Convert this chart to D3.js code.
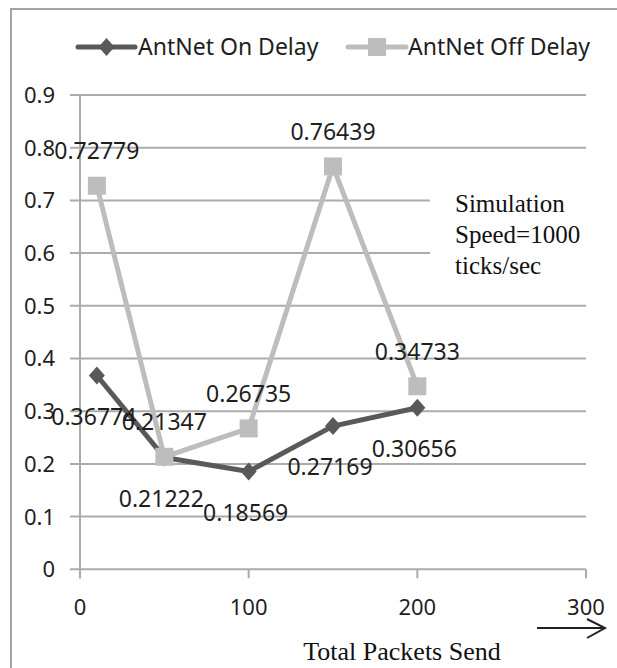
<!DOCTYPE html>
<html>
<head>
	<meta charset="utf-8">
	<script src="https://d3js.org/d3.v7.min.js"></script>
	<title>AntNet Delay</title>
	<style>
		body { margin: 0; background: #fff; }
		svg { display: block; }
	</style>
</head>
<body>
	<div id="chart"></div>

	<script type="text/javascript">

		// data
		var packets = [10, 50, 100, 150, 200];
		var onDelay = [0.36774, 0.21222, 0.18569, 0.27169, 0.30656];
		var offDelay = [0.72779, 0.21347, 0.26735, 0.76439, 0.34733];
		var seriesNames = ["AntNet On Delay", "AntNet Off Delay"];
		var xTicks = [0, 100, 200, 300];
		var yTicks = [0, 0.1, 0.2, 0.3, 0.4, 0.5, 0.6, 0.7, 0.8, 0.9];
		var noteLines = ["Simulation", "Speed=1000", "ticks/sec"];
		var xTitle = "Total Packets Send";

		var width = 617, height = 668;
		var sans = "'Noto Sans', 'Open Sans', sans-serif";
		var serif = "'Liberation Serif', 'DejaVu Serif', serif";
		var gridColor = "#ababab";
		var onColor = "#595959", offColor = "#bdbdbd";
		var textColor = "#1e1e1e";

		var svg = d3.select("#chart").append("svg")
			.attr("width", width)
			.attr("height", height);

		// frame (only top and left edges show in the picture)
		svg.append("rect")
			.attr("x", 11).attr("y", 9)
			.attr("width", 640).attr("height", 700)
			.attr("fill", "none")
			.attr("stroke", "#a4a4a4")
			.attr("stroke-width", 2);

		var x = d3.scaleLinear().domain([0, 300]).range([80, 586]);
		var y = d3.scaleLinear().domain([0, 0.9]).range([569.3, 95]);

		// horizontal grid lines, extending left as ticks
		svg.selectAll(".grid")
			.data(yTicks).enter()
			.append("line")
			.attr("class", "grid")
			.attr("x1", 70).attr("x2", x(300))
			.attr("y1", function(d){ return y(d); })
			.attr("y2", function(d){ return y(d); })
			.attr("stroke", gridColor)
			.attr("stroke-width", 2);

		// y axis line
		svg.append("line")
			.attr("x1", x(0)).attr("x2", x(0))
			.attr("y1", y(0.9)).attr("y2", y(0) + 9)
			.attr("stroke", gridColor)
			.attr("stroke-width", 2);

		// x ticks
		svg.selectAll(".xtick")
			.data(xTicks).enter()
			.append("line")
			.attr("class", "xtick")
			.attr("x1", function(d){ return x(d); })
			.attr("x2", function(d){ return x(d); })
			.attr("y1", y(0)).attr("y2", y(0) + 9)
			.attr("stroke", gridColor)
			.attr("stroke-width", 2);

		svg.selectAll(".ylabel")
			.data(yTicks).enter()
			.append("text")
			.attr("class", "ylabel")
			.attr("x", 55)
			.attr("y", function(d){ return y(d); })
			.attr("dy", "0.36em")
			.attr("text-anchor", "end")
			.attr("font-family", sans)
			.attr("font-size", 22)
			.attr("fill", textColor)
			.text(function(d){ return d3.format("")(d); });

		svg.selectAll(".xlabel")
			.data(xTicks).enter()
			.append("text")
			.attr("class", "xlabel")
			.attr("x", function(d){ return x(d); })
			.attr("y", 607)
			.attr("dy", "0.36em")
			.attr("text-anchor", "middle")
			.attr("font-family", sans)
			.attr("font-size", 22)
			.attr("fill", textColor)
			.text(function(d){ return d; });

		// note box covering part of the grid
		svg.append("rect")
			.attr("x", 430).attr("y", 172)
			.attr("width", 170).attr("height", 112)
			.attr("fill", "#fff");

		svg.selectAll(".note")
			.data(noteLines).enter()
			.append("text")
			.attr("class", "note")
			.attr("x", 455)
			.attr("y", function(d, i){ return 212 + i * 31; })
			.attr("font-family", serif)
			.attr("font-size", 25)
			.attr("fill", "#111")
			.text(function(d){ return d; });

		// axis title and arrow
		svg.append("text")
			.attr("x", 402).attr("y", 660)
			.attr("text-anchor", "middle")
			.attr("font-family", serif)
			.attr("font-size", 26)
			.attr("fill", "#111")
			.text(xTitle);

		svg.append("line")
			.attr("x1", 537).attr("x2", 604)
			.attr("y1", 628).attr("y2", 628)
			.attr("stroke", "#222").attr("stroke-width", 2);
		svg.append("path")
			.attr("d", "M587,619L605,628L587,638")
			.attr("fill", "none")
			.attr("stroke", "#222").attr("stroke-width", 2);

		var line = d3.line()
			.x(function(d){ return x(d[0]); })
			.y(function(d){ return y(d[1]); });

		var onData = packets.map(function(p, i){ return [p, onDelay[i]]; });
		var offData = packets.map(function(p, i){ return [p, offDelay[i]]; });

		var diamond = "M0,-9L8,0L0,9L-8,0Z";

		// On series
		svg.append("path")
			.datum(onData)
			.attr("d", line)
			.attr("fill", "none")
			.attr("stroke", onColor)
			.attr("stroke-width", 5)
			.attr("stroke-linejoin", "round");
		svg.selectAll(".onpt")
			.data(onData).enter()
			.append("path")
			.attr("class", "onpt")
			.attr("d", diamond)
			.attr("transform", function(d){ return "translate(" + x(d[0]) + "," + y(d[1]) + ")"; })
			.attr("fill", onColor);

		// Off series
		svg.append("path")
			.datum(offData)
			.attr("d", line)
			.attr("fill", "none")
			.attr("stroke", offColor)
			.attr("stroke-width", 5)
			.attr("stroke-linejoin", "round");
		svg.selectAll(".offpt")
			.data(offData).enter()
			.append("rect")
			.attr("class", "offpt")
			.attr("x", function(d){ return x(d[0]) - 9; })
			.attr("y", function(d){ return y(d[1]) - 9; })
			.attr("width", 18).attr("height", 18)
			.attr("fill", offColor);

		// data labels: On below, Off above
		svg.selectAll(".onlab")
			.data(onData).enter()
			.append("text")
			.attr("class", "onlab")
			.attr("x", function(d){ return x(d[0]) - 3; })
			.attr("y", function(d){ return y(d[1]) + 41; })
			.attr("dy", "0.36em")
			.attr("text-anchor", "middle")
			.attr("font-family", sans)
			.attr("font-size", 23)
			.attr("fill", textColor)
			.text(function(d){ return d[1]; });

		svg.selectAll(".offlab")
			.data(offData).enter()
			.append("text")
			.attr("class", "offlab")
			.attr("x", function(d){ return x(d[0]); })
			.attr("y", function(d){ return y(d[1]) - 35; })
			.attr("dy", "0.36em")
			.attr("text-anchor", "middle")
			.attr("font-family", sans)
			.attr("font-size", 23)
			.attr("fill", textColor)
			.text(function(d){ return d[1]; });

		// legend
		var legend = [
			{ name: seriesNames[0], x0: 78, x1: 135, tx: 138, color: onColor, shape: "diamond" },
			{ name: seriesNames[1], x0: 348, x1: 406, tx: 408, color: offColor, shape: "square" }
		];
		var lg = svg.selectAll(".legend")
			.data(legend).enter()
			.append("g")
			.attr("class", "legend");
		lg.append("line")
			.attr("x1", function(d){ return d.x0; })
			.attr("x2", function(d){ return d.x1; })
			.attr("y1", 47).attr("y2", 47)
			.attr("stroke", function(d){ return d.color; })
			.attr("stroke-width", 5)
			.attr("stroke-linecap", "round");
		lg.append("path")
			.attr("d", function(d){ return d.shape == "diamond" ? diamond : "M-9,-9H9V9H-9Z"; })
			.attr("transform", function(d){ return "translate(" + ((d.x0 + d.x1) / 2) + ",47)"; })
			.attr("fill", function(d){ return d.color; });
		lg.append("text")
			.attr("x", function(d){ return d.tx; })
			.attr("y", 47)
			.attr("dy", "0.36em")
			.attr("font-family", sans)
			.attr("font-size", 23)
			.attr("fill", textColor)
			.text(function(d){ return d.name; });

	</script>
</body>
</html>
